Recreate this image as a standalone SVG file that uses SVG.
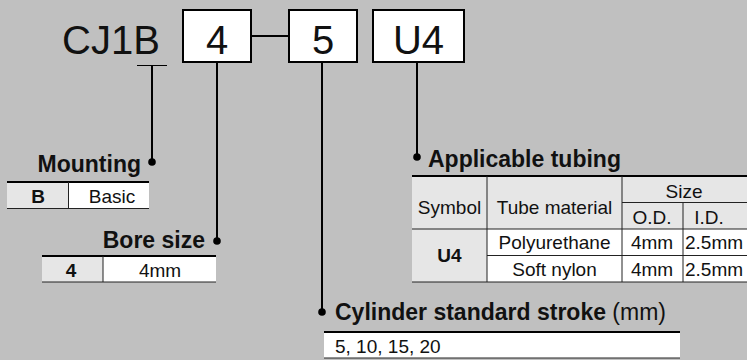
<svg xmlns="http://www.w3.org/2000/svg" width="747" height="360" viewBox="0 0 747 360">
<style>
.bg{fill:#c0c0c0}
.box{fill:#fff;stroke:#000;stroke-width:2}
.big{font-family:"Liberation Sans",Arial,sans-serif;font-size:40px;fill:#111}
.hd{font-family:"Liberation Sans",Arial,sans-serif;font-size:23px;font-weight:bold;fill:#111}
.tx{font-family:"Liberation Sans",Arial,sans-serif;font-size:19px;fill:#111}
.tb{font-family:"Liberation Sans",Arial,sans-serif;font-size:19px;font-weight:bold;fill:#111}
.reg{font-weight:normal}
.conn{stroke:#000;stroke-width:2;fill:none}
.top{stroke:#000;stroke-width:2}
.ln{stroke:#222;stroke-width:1}
.gray{fill:#e6e6e6}
.white{fill:#fff}
.dot{fill:#000}
</style>
<rect class="bg" x="0" y="0" width="747" height="360"/>

<g id="model">
  <text class="big" x="62" y="54">CJ1B</text>
  <line x1="137" y1="65.5" x2="167" y2="65.5" stroke="#000" stroke-width="1"/>
</g>
<g id="box-bore">
  <rect class="box" x="183" y="10" width="68" height="52"/>
  <text class="big" x="217" y="54" text-anchor="middle">4</text>
</g>
<g id="box-stroke">
  <rect class="box" x="289" y="10" width="68" height="52"/>
  <text class="big" x="323" y="54" text-anchor="middle">5</text>
</g>
<g id="box-tubing">
  <rect class="box" x="373" y="10" width="91" height="52"/>
  <text class="big" x="418.5" y="54" text-anchor="middle">U4</text>
</g>

<g id="connectors">
  <line class="conn" x1="251" y1="36" x2="289" y2="36" stroke-width="3"/>
  <line class="conn" x1="152" y1="66" x2="152" y2="162"/>
  <circle class="dot" cx="152" cy="162" r="3.8"/>
  <line class="conn" x1="217" y1="62" x2="217" y2="241"/>
  <circle class="dot" cx="217" cy="241" r="3.8"/>
  <line class="conn" x1="322" y1="62" x2="322" y2="312"/>
  <circle class="dot" cx="322" cy="312" r="3.8"/>
  <line class="conn" x1="417" y1="62" x2="417" y2="157"/>
  <circle class="dot" cx="417" cy="157" r="3.8"/>
</g>

<g id="mounting">
  <text class="hd" x="141" y="172" text-anchor="end">Mounting</text>
  <rect class="gray" x="7" y="182" width="61" height="27"/>
  <rect class="white" x="68" y="182" width="81" height="27"/>
  <line class="top" x1="7" y1="182" x2="149" y2="182"/>
  <line class="ln" x1="7" y1="208.5" x2="149" y2="208.5"/>
  <line class="ln" x1="68.5" y1="182" x2="68.5" y2="209"/>
  <text class="tb" x="38" y="203" text-anchor="middle">B</text>
  <text class="tx" x="112" y="203" text-anchor="middle">Basic</text>
</g>

<g id="bore-size">
  <text class="hd" x="205" y="248" text-anchor="end">Bore size</text>
  <rect class="gray" x="42" y="256" width="61" height="26"/>
  <rect class="white" x="103" y="256" width="113" height="26"/>
  <line class="top" x1="42" y1="256" x2="216" y2="256"/>
  <line class="ln" x1="42" y1="282" x2="216" y2="282"/>
  <line class="ln" x1="103" y1="256" x2="103" y2="282"/>
  <text class="tb" x="71" y="277" text-anchor="middle">4</text>
  <text class="tx" x="160" y="277" text-anchor="middle">4mm</text>
</g>

<g id="applicable-tubing">
  <text class="hd" x="428" y="167">Applicable tubing</text>
  <rect class="gray" x="412" y="176" width="335" height="53"/>
  <rect class="gray" x="412" y="229" width="75" height="53"/>
  <rect class="white" x="487" y="229" width="260" height="53"/>
  <line class="top" x1="412" y1="176" x2="747" y2="176"/>
  <line class="ln" x1="622" y1="202.5" x2="747" y2="202.5"/>
  <line class="ln" x1="412" y1="229" x2="747" y2="229"/>
  <line class="ln" x1="487" y1="255.5" x2="747" y2="255.5"/>
  <line class="ln" x1="412" y1="282" x2="747" y2="282"/>
  <line class="ln" x1="487" y1="176" x2="487" y2="282"/>
  <line class="ln" x1="622" y1="176" x2="622" y2="282"/>
  <line class="ln" x1="683" y1="202.5" x2="683" y2="282"/>
  <text class="tx" x="449.5" y="214" text-anchor="middle">Symbol</text>
  <text class="tx" x="554.5" y="214" text-anchor="middle">Tube material</text>
  <text class="tx" x="684" y="198" text-anchor="middle">Size</text>
  <text class="tx" x="652" y="224" text-anchor="middle">O.D.</text>
  <text class="tx" x="709" y="224" text-anchor="middle">I.D.</text>
  <text class="tb" x="449.5" y="262" text-anchor="middle">U4</text>
  <text class="tx" x="554.5" y="249" text-anchor="middle">Polyurethane</text>
  <text class="tx" x="554.5" y="276" text-anchor="middle">Soft nylon</text>
  <text class="tx" x="652" y="249" text-anchor="middle">4mm</text>
  <text class="tx" x="652" y="276" text-anchor="middle">4mm</text>
  <text class="tx" x="685" y="249">2.5mm</text>
  <text class="tx" x="685" y="276">2.5mm</text>
</g>

<g id="stroke">
  <text class="hd" x="335" y="320">Cylinder standard stroke<tspan class="reg"> (mm)</tspan></text>
  <rect class="white" x="324" y="332" width="356" height="26"/>
  <line class="top" x1="324" y1="332" x2="680" y2="332"/>
  <line class="ln" x1="324" y1="358" x2="680" y2="358"/>
  <text class="tx" x="335" y="353">5, 10, 15, 20</text>
</g>
</svg>
